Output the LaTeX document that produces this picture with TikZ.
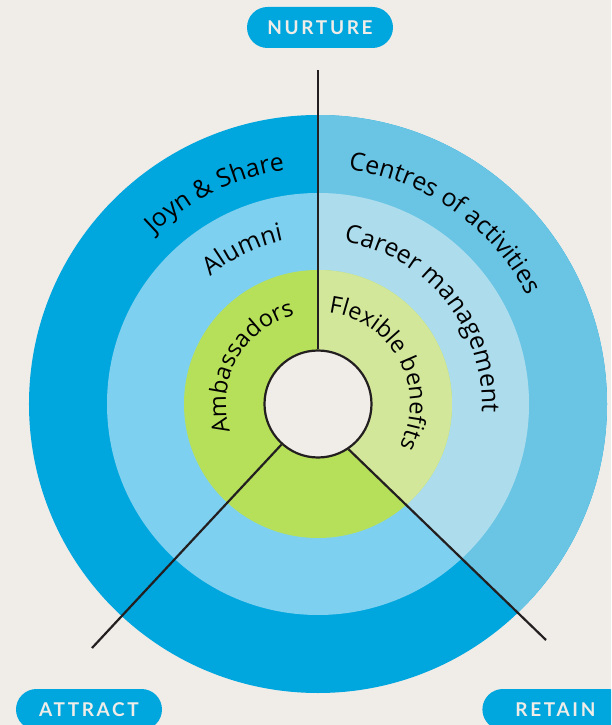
\documentclass[tikz,border=0pt]{standalone}
\usepackage{fontspec}
\setmainfont{Open Sans}
\usepackage{tikz}
\usetikzlibrary{positioning}
\usetikzlibrary{decorations.text}
\newfontfamily\ringfont{Open Sans}
\newfontfamily\pillfont[LetterSpace=14]{Lato}
\definecolor{paper}{HTML}{F0EDE9}
\definecolor{outerdark}{HTML}{00A6DE}
\definecolor{outerlight}{HTML}{6AC4E4}
\definecolor{middark}{HTML}{7DD0EF}
\definecolor{midlight}{HTML}{ADDDEC}
\definecolor{greendark}{HTML}{B6E05A}
\definecolor{greenlight}{HTML}{D3E79B}
\definecolor{spokecol}{HTML}{231F20}
% the right-hand sector of every ring is the lighter one
\newcommand{\lightSector}{(0,0) -- (0,420) -- (520,420) -- (525,-524) -- (30,-44) -- cycle}
% #1 mid angle, #2 baseline radius, #3 font size, #4 text
\newcommand{\ringLabel}[4]{\path[decorate,decoration={text along path,text align=center,text color=black,
    text={|\ringfont\fontsize{#3}{#3}\selectfont|#4}}] ({#1+80}:#2) arc[start angle={#1+80}, end angle={#1-80}, radius=#2]}

\begin{document}
\begin{tikzpicture}[x=1pt,y=1pt,
    spoke/.style={draw=spokecol,line width=2.2pt},
    pill/.style={fill=outerdark,rounded corners=20.5pt,minimum width=146pt,minimum height=41pt,
      inner sep=0pt,text=paper,font=\pillfont\bfseries\fontsize{19}{21}\selectfont}]
  \clip (-318,-321) rectangle (293,404);
  \fill[paper] (-318,-321) rectangle (293,404);

  % rings
  \fill[outerdark] (0,0) circle (289);
  \begin{scope}
    \clip \lightSector;
    \fill[outerlight] (0,0) circle (289);
  \end{scope}
  \fill[middark] (0,0) circle (211);
  \begin{scope}
    \clip \lightSector;
    \fill[midlight] (0,0) circle (211);
  \end{scope}
  \fill[greendark] (0,0) circle (134);
  \begin{scope}
    \clip \lightSector;
    \fill[greenlight] (0,0) circle (134);
  \end{scope}

  % labels on the rings
  \ringLabel{116}{236}{25}{Joyn {\&} Share};
  \ringLabel{55}{236}{25}{Centres of activities};
  \ringLabel{116}{167}{25}{Alumni};
  \ringLabel{39}{164}{25}{Career management};
  \ringLabel{151}{92}{23.5}{Ambassadors};
  \ringLabel{28}{92}{23.5}{Flexible benefits};

  % hub and spokes
  \node[circle,draw=spokecol,line width=2.2pt,fill=paper,minimum size=107pt,inner sep=0pt] (hub) at (0,0) {};
  \coordinate (nurtureEnd) at (0,334);
  \coordinate (attractEnd) at (-226,-244);
  \coordinate (retainEnd) at (228,-236);
  \draw[spoke] (hub.north) -- (nurtureEnd);
  \draw[spoke] (hub.228) -- (attractEnd);
  \draw[spoke] (hub.-56) -- (retainEnd);

  \node[pill] (nurture) at (2,376.5) {NURTURE};
  \node[pill] (attract) at (-229,-305.5) {ATTRACT};
  \node[pill,right=320pt of attract] (retain) {RETAIN};
\end{tikzpicture}
\end{document}
